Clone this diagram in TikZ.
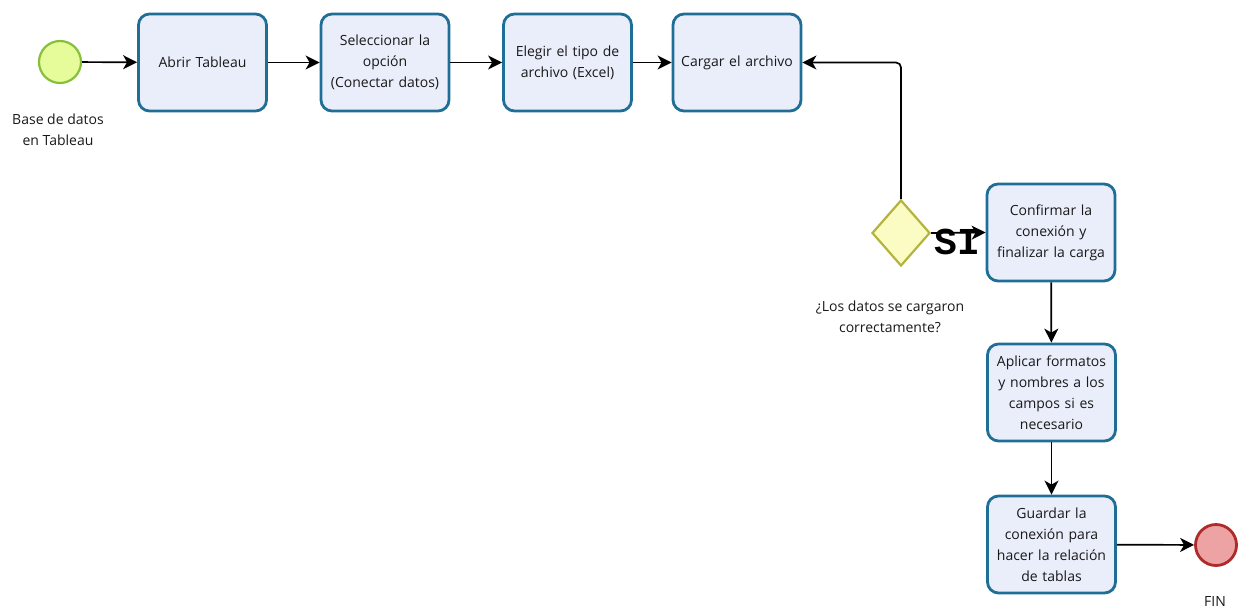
\documentclass[tikz,border=0pt]{standalone}
\usepackage{fontspec}
\setmainfont{Open Sans}
\newfontfamily\sifont{Liberation Mono}
\usetikzlibrary{shapes.geometric,arrows.meta}
\definecolor{boxfill}{HTML}{EAEEFB}
\definecolor{boxline}{HTML}{1F6E96}
\definecolor{startfill}{HTML}{E6FC9A}
\definecolor{startline}{HTML}{86C03A}
\definecolor{endfill}{HTML}{EDA3A3}
\definecolor{endline}{HTML}{AE2B2B}
\definecolor{gwfill}{HTML}{FBFBC4}
\definecolor{gwline}{HTML}{B4B43C}
\tikzset{
  task/.style={draw=boxline, fill=boxfill, line width=2.8pt, rounded corners=11pt,
    minimum width=128pt, minimum height=97pt, text width=124pt, align=center,
    inner sep=0pt, font=\fontsize{14}{21}\selectfont, text=black!90},
  evstart/.style={circle, draw=startline, fill=startfill, line width=2.2pt, minimum size=42pt, inner sep=0pt},
  evend/.style={circle, draw=endline, fill=endfill, line width=2.8pt, minimum size=41pt, inner sep=0pt},
  gw/.style={diamond, draw=gwline, fill=gwfill, line width=2.2pt, minimum width=58pt, minimum height=66pt, inner sep=0pt},
  arr/.style={-{Stealth[length=14pt,width=14pt,inset=4pt]}, line width=1.7pt, black},
  lbl/.style={align=center, font=\fontsize{14}{21}\selectfont, text=black!90}
}
\begin{document}
\begin{tikzpicture}[x=1pt,y=-1pt]
\useasboundingbox (0,0) rectangle (1238,608);
\node[evstart] (s) at (60,62) {};
\node[lbl] (sl) at (58,130) {Base de datos\\en Tableau};
\node[task] (b1) at (202.5,62.5) {Abrir Tableau};
\node[task] (b2) at (385,62.5) {Seleccionar la\\opción\\(Conectar datos)};
\node[task] (b3) at (567.5,62.5) {Elegir el tipo de\\archivo (Excel)};
\node[task] (b4) at (737,62.5) {Cargar el archivo};
\node[gw] (g) at (901,233) {};
\node[lbl] (gl) at (890,317) {¿Los datos se cargaron\\correctamente?};
\node[task] (c) at (1051,232.5) {Confirmar la\\conexión y\\finalizar la carga};
\node[task] (a) at (1051.5,392.5) {Aplicar formatos\\y nombres a los\\campos si es\\necesario};
\node[task] (gd) at (1051.5,544.5) {Guardar la\\conexión para\\hacer la relación\\de tablas};
\node[evend] (e) at (1216,545) {};
\node[lbl] (el) at (1215,601) {FIN};
\draw[arr] (s) -- (b1);
\draw[arr] (b1) -- (b2);
\draw[arr] (b2) -- (b3);
\draw[arr] (b3) -- (b4);
\draw[arr, rounded corners=5pt] (g.north) |- (b4.east);
\draw[arr] (g.east) -- (c.west);
\node[font=\sifont\bfseries\fontsize{38}{38}\selectfont, inner sep=0pt] (si) at (957,242) {SI};
\draw[arr] (c) -- (a);
\draw[arr] (a) -- (gd);
\draw[arr] (gd) -- (e);
\end{tikzpicture}
\end{document}
